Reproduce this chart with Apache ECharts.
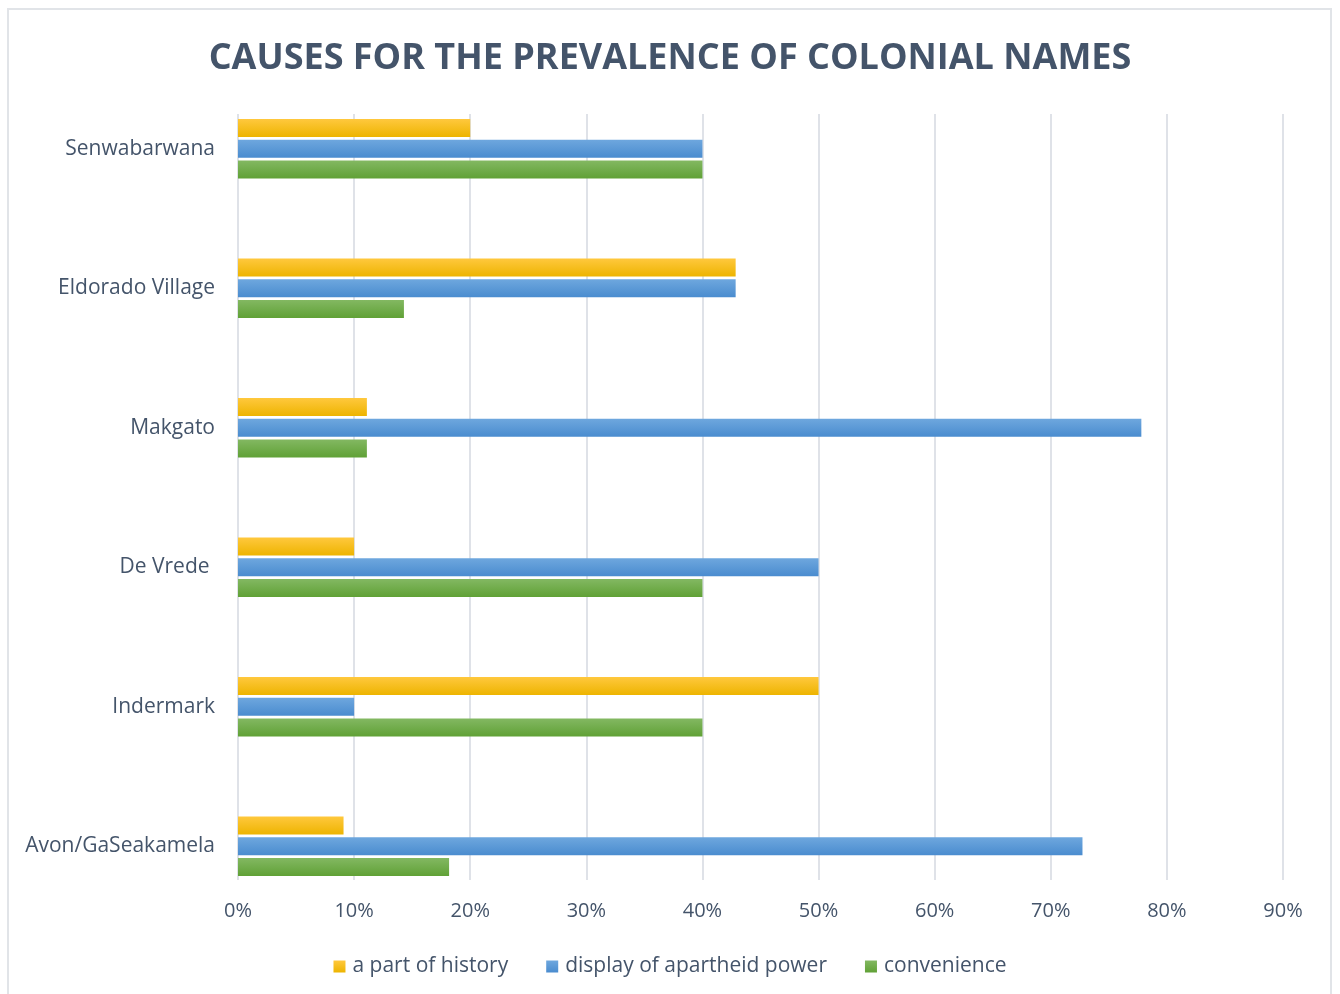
<!DOCTYPE html>
<html><head><meta charset="utf-8">
<script src="https://cdn.jsdelivr.net/npm/echarts@6/dist/echarts.min.js"></script>
<style>html,body{margin:0;padding:0;background:#fff}#c{width:1340px;height:994px}
#frame{position:absolute;left:7px;top:8px;width:1325px;height:1000px;border:2px solid #e1e4e8;box-sizing:border-box;pointer-events:none}</style>
</head><body><div id="c"></div><div id="frame"></div>
<script>
const categories = ['Avon/GaSeakamela', 'Indermark', 'De Vrede ', 'Makgato', 'Eldorado Village', 'Senwabarwana'];
const seriesNames = ['a part of history', 'display of apartheid power', 'convenience'];
const history = [0.0909, 0.50, 0.10, 0.111, 0.4286, 0.20];
const apartheid = [0.7273, 0.10, 0.50, 0.778, 0.4286, 0.40];
const convenience = [0.1818, 0.40, 0.40, 0.111, 0.1429, 0.40];
const xTicks = [0, 0.1, 0.2, 0.3, 0.4, 0.5, 0.6, 0.7, 0.8, 0.9];

const grad = (a, b) => new echarts.graphic.LinearGradient(0, 0, 0, 1, [{offset: 0, color: a}, {offset: 1, color: b}]);
const colors = [grad('#ffc83d', '#edb400'), grad('#6ea7de', '#4a8ccf'), grad('#83b862', '#60a136')];
const txt = '#44546a';
const font = 'Open Sans';

const chart = echarts.init(document.getElementById('c'));
const mk = (name, data, i) => ({
  name, type: 'bar', data, xAxisIndex: 1, yAxisIndex: 1,
  barWidth: 18, barGap: '15%',
  itemStyle: {color: colors[i]}
});
chart.setOption({
  animation: false,
  title: {text: 'CAUSES FOR THE PREVALENCE OF COLONIAL NAMES', left: 'center', top: 36,
    textStyle: {color: txt, fontSize: 36, fontWeight: 'bold', fontFamily: font}},
  legend: {bottom: 12, left: 'center', itemWidth: 12, itemHeight: 12, itemGap: 38,
    icon: 'rect', data: seriesNames,
    textStyle: {color: txt, fontSize: 21, fontFamily: font, padding: [0, 0, 0, 2]}},
  grid: [
    {left: 238, right: 57, top: 114, bottom: 114},
    {left: 238, right: 57, top: 79, bottom: 78}
  ],
  xAxis: [
    {type: 'value', gridIndex: 0, min: 0, max: 0.9, interval: 0.1,
      axisLine: {show: false}, axisTick: {show: false},
      splitLine: {lineStyle: {color: '#dfe2e8', width: 2}},
      axisLabel: {color: txt, fontSize: 20, fontFamily: font, margin: 21,
        formatter: v => Math.round(v * 100) + '%'}},
    {type: 'value', gridIndex: 1, min: 0, max: 0.9, interval: 0.1, show: false}
  ],
  yAxis: [
    {type: 'value', gridIndex: 0, show: false},
    {type: 'category', gridIndex: 1, data: categories,
      axisLine: {show: false}, axisTick: {show: false},
      axisLabel: {color: txt, fontSize: 21, fontFamily: font, margin: 23}}
  ],
  series: [
    mk(seriesNames[0], history, 0),
    mk(seriesNames[1], apartheid, 1),
    mk(seriesNames[2], convenience, 2)
  ]
});
</script></body></html>
